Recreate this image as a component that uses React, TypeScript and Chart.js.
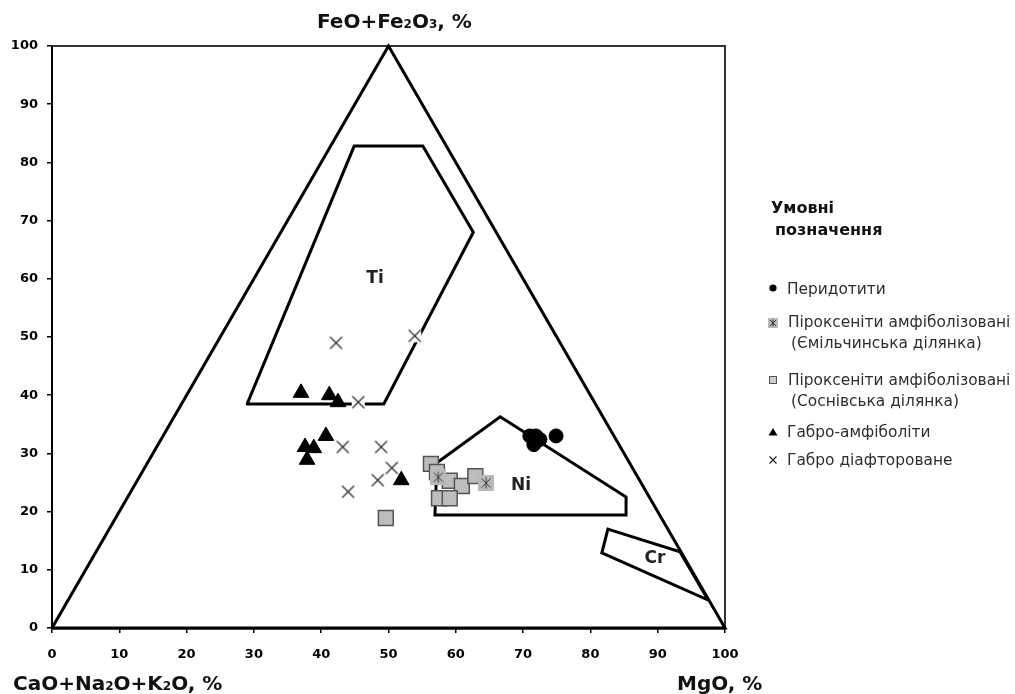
import React, { useEffect, useRef } from 'react';
import { Chart, registerables } from 'chart.js';

Chart.register(...registerables);

// ---- axis ticks ----
const axisTicks = [0, 10, 20, 30, 40, 50, 60, 70, 80, 90, 100];

// ---- diagram fields (ternary projection, %) ----
const outerTriangleX = [0, 50, 100, 0];
const outerTriangleY = [0, 100, 0, 0];
const tiFieldX = [29.0, 44.9, 55.1, 62.6, 49.3, 29.0];
const tiFieldY = [38.5, 82.8, 82.8, 68.0, 38.5, 38.5];
const niFieldX = [57.2, 66.6, 85.3, 85.3, 56.9, 57.2];
const niFieldY = [28.4, 36.3, 22.5, 19.4, 19.4, 28.4];
const crFieldX = [82.6, 93.3, 97.5, 81.7, 82.6];
const crFieldY = [17.0, 13.1, 4.8, 12.9, 17.0];

const fieldNames = ['Ti', 'Ni', 'Cr'];
const fieldLabelX = [48.0, 69.7, 89.6];
const fieldLabelY = [60.0, 24.4, 12.0];

// ---- samples ----
const peridotiteX = [71.0, 71.6, 72.5, 71.9, 74.9];
const peridotiteY = [33.0, 31.5, 32.4, 33.0, 33.0];

const pyroxEmX = [57.4, 64.5];
const pyroxEmY = [25.9, 24.9];

const pyroxSosX = [56.3, 57.2, 59.1, 60.9, 57.5, 59.1, 62.9, 49.6];
const pyroxSosY = [28.2, 26.8, 25.3, 24.4, 22.3, 22.3, 26.1, 18.9];

const gabbroAmphX = [37.0, 41.2, 42.5, 40.7, 37.6, 38.9, 37.9, 51.9];
const gabbroAmphY = [40.4, 40.0, 38.8, 33.0, 31.1, 30.9, 28.9, 25.4];

const gabbroDiaX = [42.2, 53.9, 45.5, 43.2, 48.9, 50.5, 48.4, 44.0];
const gabbroDiaY = [49.0, 50.2, 38.8, 31.1, 31.1, 27.5, 25.4, 23.4];

// ---- texts ----
const legendTitle = ['Умовні', 'позначення'];
const legendLabels = [
  ['Перидотити'],
  ['Піроксеніти амфіболізовані', '(Ємільчинська ділянка)'],
  ['Піроксеніти амфіболізовані', '(Соснівська ділянка)'],
  ['Габро-амфіболіти'],
  ['Габро діафтороване'],
];

const zip = (xs: number[], ys: number[]) => xs.map((x, i) => ({ x, y: ys[i] }));

const FONT = '"DejaVu Sans", sans-serif';

type Part = { t: string; sub?: boolean };

function drawRich(ctx: CanvasRenderingContext2D, parts: Part[], x: number, baseline: number, size: number, subSize: number) {
  let cx = x;
  ctx.textBaseline = 'alphabetic';
  ctx.textAlign = 'left';
  for (const p of parts) {
    ctx.font = `bold ${p.sub ? subSize : size}px ${FONT}`;
    ctx.fillText(p.t, cx, baseline);
    cx += ctx.measureText(p.t).width;
  }
}

function makeAsteriskSquare(size: number) {
  const c = document.createElement('canvas');
  c.width = size;
  c.height = size;
  const g = c.getContext('2d')!;
  g.fillStyle = '#b9b9b9';
  g.fillRect(0, 0, size, size);
  g.strokeStyle = '#3a3a3a';
  g.lineWidth = 1;
  const m = size / 2;
  const a = size * 0.22;
  g.beginPath();
  g.moveTo(m, a - 1);
  g.lineTo(m, size - a + 1);
  g.moveTo(a, a);
  g.lineTo(size - a, size - a);
  g.moveTo(size - a, a);
  g.lineTo(a, size - a);
  g.stroke();
  return c;
}

function makeCross(size: number) {
  const c = document.createElement('canvas');
  c.width = size;
  c.height = size;
  const g = c.getContext('2d')!;
  g.fillStyle = '#ffffff';
  g.fillRect(2, 2, size - 4, size - 4);
  g.strokeStyle = '#2a2a2a';
  g.lineWidth = 1.2;
  const a = 2.5;
  g.beginPath();
  g.moveTo(a, a);
  g.lineTo(size - a, size - a);
  g.moveTo(size - a, a);
  g.lineTo(a, size - a);
  g.stroke();
  return c;
}

const overlayPlugin = {
  id: 'overlay',
  beforeDatasetsDraw(chart: any) {
    const { ctx, chartArea: a } = chart;
    ctx.save();
    ctx.strokeStyle = '#333';
    ctx.lineWidth = 2;
    ctx.beginPath();
    ctx.moveTo(a.left, a.top);
    ctx.lineTo(a.right, a.top);
    ctx.lineTo(a.right, a.bottom);
    ctx.stroke();
    ctx.restore();
  },
  afterDatasetsDraw(chart: any) {
    const { ctx, scales } = chart;
    ctx.save();
    ctx.fillStyle = '#222';
    ctx.font = `bold 17px ${FONT}`;
    ctx.textAlign = 'center';
    ctx.textBaseline = 'middle';
    fieldNames.forEach((n, i) => {
      ctx.fillText(n, scales.x.getPixelForValue(fieldLabelX[i]), scales.y.getPixelForValue(fieldLabelY[i]));
    });
    ctx.restore();
  },
  afterDraw(chart: any) {
    const { ctx } = chart;
    ctx.save();
    ctx.fillStyle = '#111';
    // axis titles
    drawRich(ctx, [{ t: 'FeO+Fe' }, { t: '2', sub: true }, { t: 'O' }, { t: '3', sub: true }, { t: ', %' }], 317, 28, 20, 12);
    drawRich(ctx, [{ t: 'CaO+Na' }, { t: '2', sub: true }, { t: 'O+K' }, { t: '2', sub: true }, { t: 'O, %' }], 13, 690, 20, 12);
    drawRich(ctx, [{ t: 'MgO, %' }], 677, 690, 20, 12);

    // legend title
    ctx.font = `bold 16px ${FONT}`;
    ctx.textAlign = 'left';
    ctx.textBaseline = 'alphabetic';
    ctx.fillText(legendTitle[0], 771, 213);
    ctx.fillText(legendTitle[1], 775, 235);

    // legend items
    ctx.fillStyle = '#2e2e2e';
    ctx.font = `15.4px ${FONT}`;
    const lines: [string, number, number][] = [
      [legendLabels[0][0], 787, 294],
      [legendLabels[1][0], 788, 327],
      [legendLabels[1][1], 791, 348],
      [legendLabels[2][0], 788, 385],
      [legendLabels[2][1], 791, 406],
      [legendLabels[3][0], 787, 437],
      [legendLabels[4][0], 787, 465],
    ];
    lines.forEach(([t, x, y]) => ctx.fillText(t, x, y));

    // legend markers
    const mx = 773;
    ctx.fillStyle = '#000';
    ctx.beginPath();
    ctx.arc(mx, 288, 3.6, 0, Math.PI * 2);
    ctx.fill();

    ctx.fillStyle = '#b9b9b9';
    ctx.fillRect(mx - 5, 318, 10, 10);
    ctx.strokeStyle = '#333';
    ctx.lineWidth = 1;
    ctx.beginPath();
    ctx.moveTo(mx, 319.5);
    ctx.lineTo(mx, 326.5);
    ctx.moveTo(mx - 3, 320);
    ctx.lineTo(mx + 3, 326);
    ctx.moveTo(mx + 3, 320);
    ctx.lineTo(mx - 3, 326);
    ctx.stroke();

    ctx.fillStyle = '#cfcfcf';
    ctx.fillRect(mx - 3.5, 376.5, 7, 7);
    ctx.strokeStyle = '#555';
    ctx.strokeRect(mx - 3.5, 376.5, 7, 7);

    ctx.fillStyle = '#000';
    ctx.beginPath();
    ctx.moveTo(mx, 428);
    ctx.lineTo(mx + 4.5, 435.5);
    ctx.lineTo(mx - 4.5, 435.5);
    ctx.closePath();
    ctx.fill();

    ctx.strokeStyle = '#222';
    ctx.lineWidth = 1.2;
    ctx.beginPath();
    ctx.moveTo(mx - 3.5, 456.5);
    ctx.lineTo(mx + 3.5, 463.5);
    ctx.moveTo(mx + 3.5, 456.5);
    ctx.lineTo(mx - 3.5, 463.5);
    ctx.stroke();

    ctx.restore();
  },
};

export default function App() {
  const ref = useRef<HTMLCanvasElement>(null);

  useEffect(() => {
    document.body.style.margin = '0';
    const canvas = ref.current!;
    const asterisk = makeAsteriskSquare(16);
    const cross = makeCross(17);

    const fieldLine = (xs: number[], ys: number[], order: number) => ({
      data: zip(xs, ys),
      showLine: true,
      borderColor: '#000',
      borderWidth: 3,
      pointRadius: 0,
      fill: false,
      tension: 0,
      borderJoinStyle: 'miter' as const,
      borderCapStyle: 'round' as const,
      clip: false as any,
      order,
    });

    const chart = new Chart(canvas, {
      type: 'scatter',
      data: {
        datasets: [
          fieldLine(outerTriangleX, outerTriangleY, 10),
          fieldLine(tiFieldX, tiFieldY, 10),
          fieldLine(niFieldX, niFieldY, 10),
          fieldLine(crFieldX, crFieldY, 10),
          {
            label: 'Габро-амфіболіти',
            data: zip(gabbroAmphX, gabbroAmphY),
            pointStyle: 'triangle',
            pointRadius: 9,
            backgroundColor: '#000',
            borderColor: '#000',
            borderWidth: 1,
            clip: false as any,
            order: 5,
          },
          {
            label: 'Піроксеніти (Соснівська)',
            data: zip(pyroxSosX, pyroxSosY),
            pointStyle: 'rect',
            pointRadius: 10.5,
            backgroundColor: '#bdbdbd',
            borderColor: '#555',
            borderWidth: 1.5,
            clip: false as any,
            order: 4,
          },
          {
            label: 'Піроксеніти (Ємільчинська)',
            data: zip(pyroxEmX, pyroxEmY),
            pointStyle: asterisk as any,
            pointRadius: 8,
            clip: false as any,
            order: 3,
          },
          {
            label: 'Перидотити',
            data: zip(peridotiteX, peridotiteY),
            pointStyle: 'circle',
            pointRadius: 7,
            backgroundColor: '#000',
            borderColor: '#000',
            borderWidth: 1,
            clip: false as any,
            order: 2,
          },
          {
            label: 'Габро діафтороване',
            data: zip(gabbroDiaX, gabbroDiaY),
            pointStyle: cross as any,
            pointRadius: 8,
            clip: false as any,
            order: 1,
          },
        ],
      },
      options: {
        animation: false,
        responsive: false,
        devicePixelRatio: 1,
        events: [],
        layout: { padding: { left: 0, top: 46, right: 290, bottom: 0 } },
        plugins: { legend: { display: false }, tooltip: { enabled: false }, title: { display: false } },
        scales: {
          x: {
            type: 'linear',
            min: 0,
            max: 100,
            afterBuildTicks: (s: any) => {
              s.ticks = axisTicks.map((v) => ({ value: v }));
            },
            afterFit: (s: any) => {
              s.height = 66;
            },
            ticks: {
              font: { family: 'DejaVu Sans', weight: 'bold', size: 13 },
              color: '#000',
              padding: 14,
              maxRotation: 0,
              autoSkip: false,
            },
            grid: { drawOnChartArea: false, drawTicks: true, tickLength: 5, color: '#000', lineWidth: 1.5 },
            border: { display: true, color: '#000', width: 2.5 },
          },
          y: {
            type: 'linear',
            min: 0,
            max: 100,
            afterBuildTicks: (s: any) => {
              s.ticks = axisTicks.map((v) => ({ value: v }));
            },
            afterFit: (s: any) => {
              s.width = 52;
            },
            ticks: {
              font: { family: 'DejaVu Sans', weight: 'bold', size: 13 },
              color: '#000',
              padding: 9,
              autoSkip: false,
            },
            grid: { drawOnChartArea: false, drawTicks: true, tickLength: 5, color: '#000', lineWidth: 1.5 },
            border: { display: true, color: '#000', width: 2 },
          },
        },
      },
      plugins: [overlayPlugin],
    });

    return () => chart.destroy();
  }, []);

  return (
    <div style={{ position: 'relative', width: 1015, height: 694, background: '#fff' }}>
      <canvas ref={ref} width={1015} height={694} style={{ display: 'block', width: 1015, height: 694 }} />
    </div>
  );
}
